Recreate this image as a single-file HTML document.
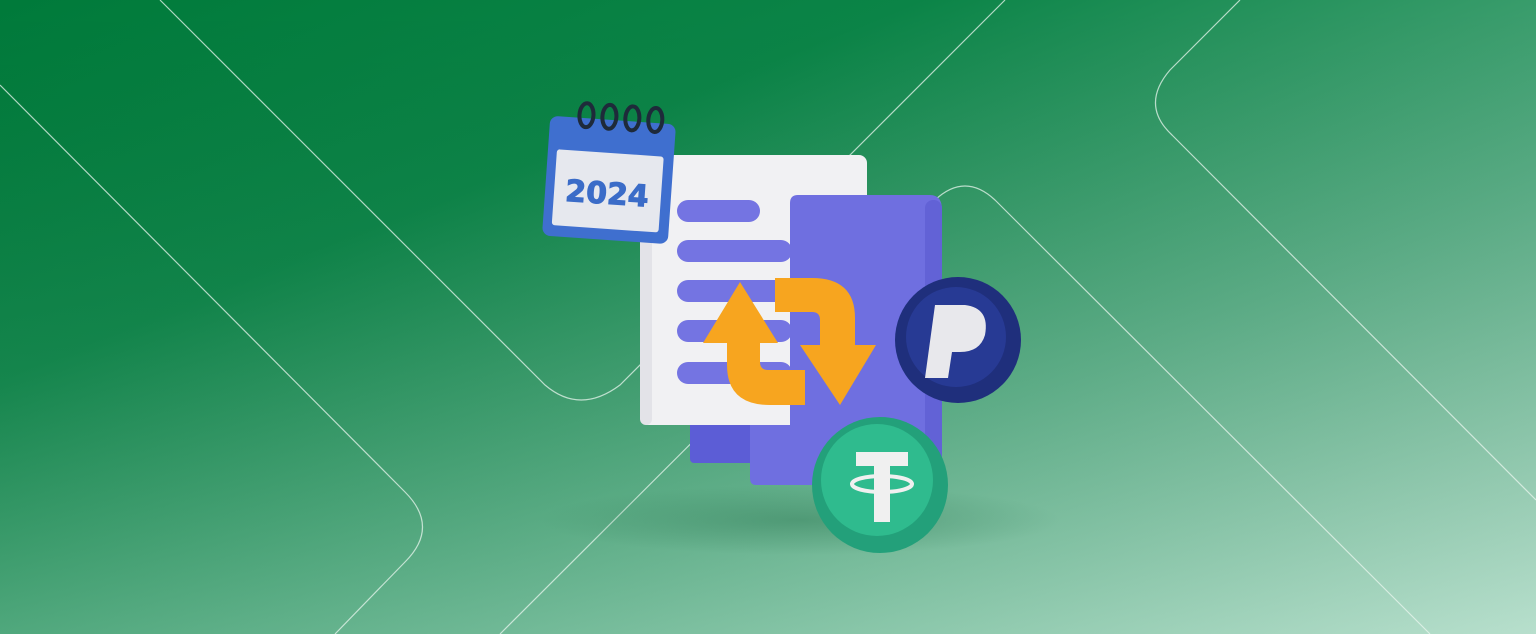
<!DOCTYPE html>
<html><head><meta charset="utf-8"><style>
html,body{margin:0;padding:0;width:1536px;height:634px;overflow:hidden}
svg{display:block}
</style></head><body>
<svg width="1536" height="634" viewBox="0 0 1536 634" xmlns="http://www.w3.org/2000/svg">
<defs>
<linearGradient id="bg" x1="0" y1="0" x2="1" y2="1" gradientUnits="objectBoundingBox">
<stop offset="0" stop-color="#007a3a"/>
<stop offset="0.3" stop-color="#0b8447"/>
<stop offset="0.65" stop-color="#5aae86"/>
<stop offset="1" stop-color="#aedbc6"/>
</linearGradient>
<linearGradient id="bg2" x1="0" y1="0" x2="0" y2="1">
<stop offset="0" stop-color="#000" stop-opacity="0"/>
<stop offset="1" stop-color="#fff" stop-opacity="0.12"/>
</linearGradient>
<radialGradient id="sh" cx="0.5" cy="0.5" r="0.5">
<stop offset="0" stop-color="#2f7a55" stop-opacity="0.45"/>
<stop offset="1" stop-color="#2f7a55" stop-opacity="0"/>
</radialGradient>
</defs>
<rect width="1536" height="634" fill="url(#bg)"/>
<rect width="1536" height="634" fill="url(#bg2)"/>
<g fill="none" stroke="#e8f5ee" stroke-opacity="0.75" stroke-width="1.2">
<path d="M0 85 L405 492 Q440 527 405 562 L335 634"/>
<path d="M160 0 L545 385 Q580 415 620 385 L1005 0"/>
<path d="M1240 0 L1170 70 Q1140 105 1172 135 L1536 500"/>
<path d="M500 634 L935 200 Q965 172 995 200 L1430 634"/>
</g>
<ellipse cx="800" cy="520" rx="260" ry="35" fill="url(#sh)"/>
<rect x="690" y="410" width="80" height="53" rx="4" fill="#5c5dd6"/>
<rect x="640" y="155" width="227" height="270" rx="8" fill="#f1f1f3"/>
<rect x="640" y="155" width="12" height="270" rx="6" fill="#e3e3e8"/>
<g fill="#7474e2">
<rect x="677" y="200" width="83" height="22" rx="11"/>
<rect x="677" y="240" width="115" height="22" rx="11"/>
<rect x="677" y="280" width="115" height="22" rx="11"/>
<rect x="677" y="320" width="115" height="22" rx="11"/>
<rect x="677" y="362" width="115" height="22" rx="11"/>
</g>
<path d="M798 195 L930 195 Q942 195 942 210 L942 478 Q942 485 935 485 L756 485 Q750 485 750 478 L750 425 L790 425 L790 203 Q790 195 798 195 Z" fill="#6f6fe0"/>
<rect x="925" y="200" width="17" height="280" rx="8" fill="#6262d6"/>
<g fill="#f7a51f">
<path d="M775 278 L812 278 Q855 278 855 318 L855 345 L876 345 L840 405 L800 345 L820 345 L820 320 Q820 312 812 312 L775 312 Z"/>
<path d="M805 405 L770 405 Q727 405 727 365 L727 343 L703 343 L740 282 L778 343 L760 343 L760 362 Q760 370 768 370 L805 370 Z"/>
</g>
<g transform="rotate(4 610 180)">
<rect x="546" y="120" width="126" height="120" rx="8" fill="#3f6fcf"/>
<rect x="555" y="153" width="107" height="76" rx="3" fill="#e6e8ee"/>
<text x="608" y="204" text-anchor="middle" font-family="'DejaVu Sans','Liberation Sans',sans-serif" font-weight="bold" font-size="30" fill="#3b6cc8" stroke="#3b6cc8" stroke-width="1">2024</text>
<g fill="none" stroke="#1e2a3a" stroke-width="4">
<ellipse cx="582" cy="117" rx="7" ry="12"/>
<ellipse cx="605" cy="117" rx="7" ry="12"/>
<ellipse cx="628" cy="117" rx="7" ry="12"/>
<ellipse cx="651" cy="117" rx="7" ry="12"/>
</g>
</g>
<circle cx="958" cy="340" r="63" fill="#1f2f7c"/>
<circle cx="956" cy="337" r="50" fill="#273a94"/>
<path d="M935 305 L965 305 Q990 308 985 335 Q980 352 960 352 L952 352 L948 378 L925 378 Z" fill="#e8e8ec"/>
<circle cx="880" cy="485" r="68" fill="#23a07a"/>
<circle cx="877" cy="480" r="56" fill="#2fbb8e"/>
<g fill="#f0f0f0">
<rect x="856" y="452" width="52" height="14"/>
<rect x="874" y="452" width="16" height="70"/>
</g>
<ellipse cx="882" cy="484" rx="30" ry="8" fill="none" stroke="#f0f0f0" stroke-width="4"/>
</svg>
</body></html>
